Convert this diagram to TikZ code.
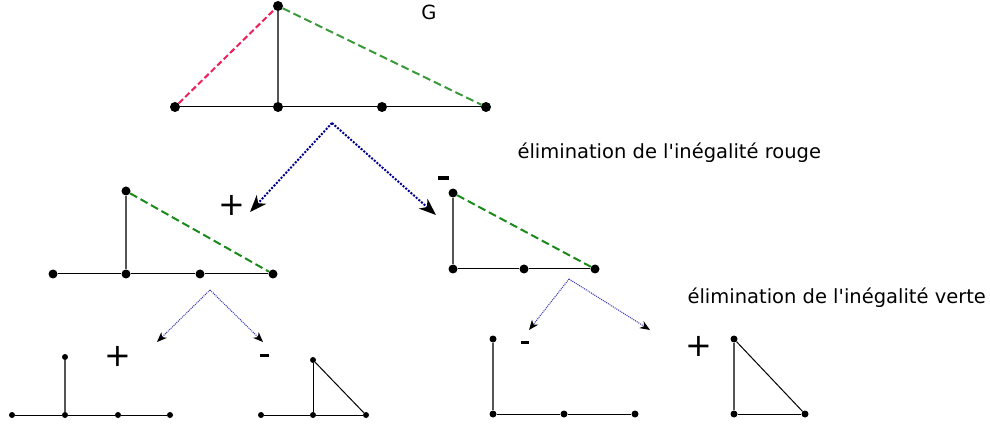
\documentclass[tikz,border=0pt]{standalone}
\usepackage{fontspec}
\newfontfamily\labelfont{DejaVu Sans}
\usepackage{xcolor}
\usetikzlibrary{arrows.meta}
\definecolor{IneqRed}{HTML}{F0205A}
\definecolor{IneqGreen}{HTML}{3A9A3A}
\definecolor{IneqGreenB}{HTML}{1A8A1A}
\definecolor{BranchBlue}{HTML}{000090}
\definecolor{BranchBlueB}{HTML}{3030B0}
\definecolor{EdgeGray}{HTML}{555555}

\begin{document}
\begin{tikzpicture}[x=1pt,y=-1pt,
          every node/.style={font=\labelfont\fontsize{19.5}{21}\selectfont},
          vtx/.style={circle,fill=black,inner sep=0pt,minimum size=#1},
          vtx/.default=7pt,
          ed/.style={black,line width=1pt},
          vert/.style={EdgeGray,line width=1.2pt},
          red/.style={IneqRed,line width=2pt,dash pattern=on 6pt off 3pt},
          grn/.style={IneqGreen,line width=2pt,dash pattern=on 8pt off 4pt},
          ar/.style={-{Stealth[length=17pt,width=13pt,inset=5pt,black]},BranchBlue,
            line width=2pt,dash pattern=on 2pt off 1.5pt},
          arsm/.style={-{Stealth[length=10pt,width=8pt,inset=3pt,black]},BranchBlueB,
            line width=1pt,dash pattern=on 1pt off 1pt},
          sgn/.style={font=\labelfont\fontsize{32}{32}\selectfont,inner sep=0pt},
          mns/.style={fill=black,inner sep=0pt,minimum width=11pt,minimum height=3.5pt}]
        \useasboundingbox (0,0) rectangle (990,430);
        % graphe G
        \node[vtx=10pt] (ga)  at (278,6)   {};
        \node[vtx=10pt] (gb1) at (175,107) {};
        \node[vtx=10pt] (gb2) at (278,107) {};
        \node[vtx=10pt] (gb3) at (382,107) {};
        \node[vtx=10pt] (gb4) at (486,107) {};
        \draw[ed] (gb1) -- (gb2) -- (gb3) -- (gb4);
        \draw[vert] (ga) -- (gb2);
        \draw[red] (gb1) -- (ga);
        \draw[grn] (ga) -- (gb4);
        \node (glab) at (429,12) {G};

        % premier niveau
        \coordinate (r0) at (332,123);
        \coordinate (rp) at (250,212);
        \coordinate (rm) at (436,215);
        \draw[ar] (r0) -- (rp);
        \draw[ar] (r0) -- (rm);
        \node[sgn] (p1) at (232,205) {+};
        \node[mns] (m1) at (443,178) {};
        \node[anchor=west] (lrouge) at (514,153) {élimination de l'inégalité rouge};

        \node[vtx=9pt] (la)  at (126,191) {};
        \node[vtx=9pt] (lb1) at (53,274)  {};
        \node[vtx=9pt] (lb2) at (126,274) {};
        \node[vtx=9pt] (lb3) at (200,274) {};
        \node[vtx=9pt] (lb4) at (273,274) {};
        \draw[ed] (lb1) -- (lb2) -- (lb3) -- (lb4);
        \draw[vert] (la) -- (lb2);
        \draw[grn,IneqGreenB] (la) -- (lb4);

        \node[vtx=9pt] (ra)  at (453,193) {};
        \node[vtx=9pt] (rb1) at (453,269) {};
        \node[vtx=9pt] (rb2) at (524,269) {};
        \node[vtx=9pt] (rb3) at (595,269) {};
        \draw[ed] (rb1) -- (rb2) -- (rb3);
        \draw[vert] (ra) -- (rb1);
        \draw[grn,IneqGreenB] (ra) -- (rb3);

        % second niveau
        \coordinate (s0) at (210,290);
        \coordinate (sp) at (157,342);
        \coordinate (sm) at (263,342);
        \draw[arsm] (s0) -- (sp);
        \draw[arsm] (s0) -- (sm);
        \node[sgn] (p2) at (118,356) {+};
        \node[mns,minimum width=9pt,minimum height=3pt] (m2) at (264,355) {};

        \coordinate (t0) at (569,279);
        \coordinate (tm) at (529,330);
        \coordinate (tp) at (650,330);
        \draw[arsm] (t0) -- (tm);
        \draw[arsm] (t0) -- (tp);
        \node[mns,minimum width=8pt,minimum height=3pt] (m3) at (525,342) {};
        \node[sgn] (p3) at (699,346) {+};
        \node[anchor=west] (lverte) at (684,298) {élimination de l'inégalité verte};

        % feuilles
        \node[vtx=6pt] (aa)  at (65,357)  {};
        \node[vtx=6pt] (ab1) at (12,415)  {};
        \node[vtx=6pt] (ab2) at (65,415)  {};
        \node[vtx=6pt] (ab3) at (118,415) {};
        \node[vtx=6pt] (ab4) at (170,415) {};
        \draw[ed] (ab1) -- (ab2) -- (ab3) -- (ab4);
        \draw[vert] (aa) -- (ab2);

        \node[vtx=6pt] (ba)  at (313,360) {};
        \node[vtx=6pt] (bb1) at (261,415) {};
        \node[vtx=6pt] (bb2) at (313,415) {};
        \node[vtx=6pt] (bb3) at (366,415) {};
        \draw[ed] (bb1) -- (bb2) -- (bb3);
        \draw[ed] (ba) -- (bb2);
        \draw[ed] (ba) -- (bb3);

        \node[vtx=7pt] (ca)  at (493,339) {};
        \node[vtx=7pt] (cb1) at (493,414) {};
        \node[vtx=7pt] (cb2) at (564,414) {};
        \node[vtx=7pt] (cb3) at (635,414) {};
        \draw[ed] (cb1) -- (cb2) -- (cb3);
        \draw[vert] (ca) -- (cb1);

        \node[vtx=7pt] (da)  at (734,339) {};
        \node[vtx=7pt] (db1) at (734,414) {};
        \node[vtx=7pt] (db2) at (805,414) {};
        \draw[ed] (db1) -- (db2);
        \draw[vert] (da) -- (db1);
        \draw[ed] (da) -- (db2);
      \end{tikzpicture}
\end{document}
